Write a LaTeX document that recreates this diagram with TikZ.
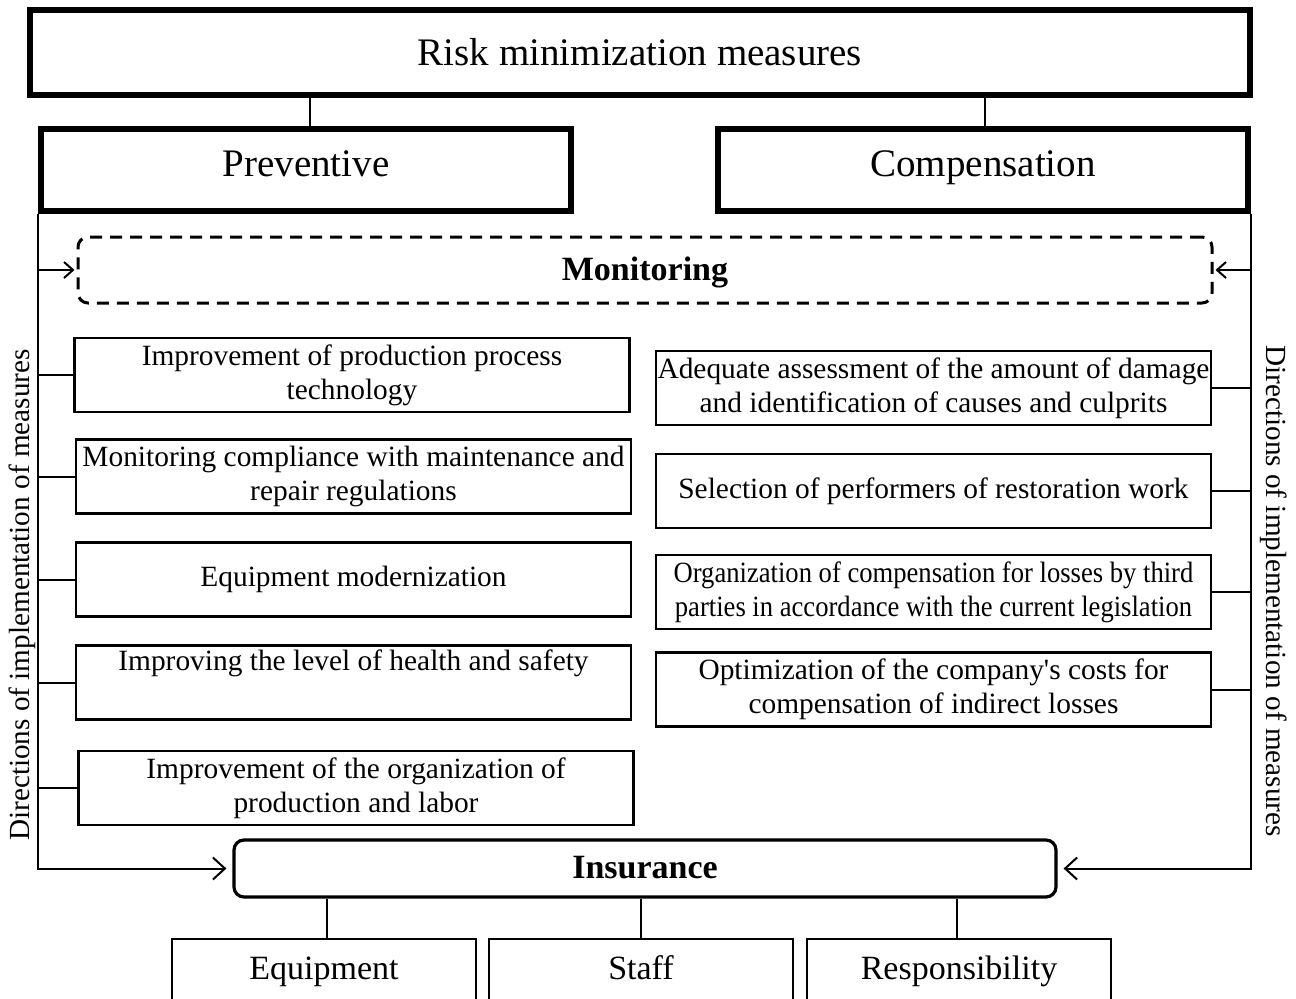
\documentclass[tikz,border=0pt]{standalone}
\usepackage{fontspec}
\setmainfont{Liberation Serif}
\usetikzlibrary{arrows.meta,calc}
\tikzset{
  thickbox/.style={draw, line width=3pt, inner sep=0pt, font=\fontsize{19.5}{23}\selectfont},
  headbox/.style={thickbox, minimum width=265pt, minimum height=41pt, text height=13pt, text depth=6.5pt},
  itembox/.style={draw, line width=1.2pt, inner sep=0pt, align=center, minimum width=277.5pt, minimum height=37pt, font=\fontsize{14.7}{17}\selectfont},
  subbox/.style={draw, line width=1pt, inner sep=0pt, minimum width=152pt, minimum height=31pt, text height=12pt, text depth=3pt, font=\fontsize{17}{20}\selectfont},
  conn/.style={line width=1pt},
  bigarrow/.style={conn, -{Straight Barb[length=6pt,width=11pt,line width=1pt]}, shorten >=3pt},
  smallarrow/.style={conn, -{Straight Barb[length=4.5pt,width=8pt,line width=1pt]}, shorten >=1pt},
  sidetext/.style={font=\fontsize{14.6}{17}\selectfont},
}
\begin{document}
\begin{tikzpicture}[x=0.5pt, y=-0.5pt]
\useasboundingbox (0,0) rectangle (1296,998);
\clip (0,0) rectangle (1296,998);
\fill[white] (0,0) rectangle (1296,998);

% top
\node[thickbox, minimum width=610pt, minimum height=42.5pt] (title) at (640,52.5) {Risk minimization measures};
\node[headbox] (prev) at (306,170) {Preventive};
\node[headbox] (comp) at (983,170) {Compensation};

% monitoring
\node[draw, dashed, dash pattern=on 6pt off 4pt, line width=1.5pt, rounded corners=5pt, minimum width=567pt, minimum height=33pt, inner sep=0pt, text height=13pt, text depth=3pt, font=\bfseries\fontsize{17}{20}\selectfont] (mon) at (645,270) {Monitoring};

% left items
\node[itembox] (L1) at (352,375) {Improvement of production process\\technology};
\node[itembox] (L2) at (353.5,476.5) {Monitoring compliance with maintenance and\\repair regulations};
\node[itembox] (L3) at (353.5,579.5) {Equipment modernization};
\node[itembox] (L4) at (353.5,682.5) {Improving the level of health and safety\\\strut};
\node[itembox] (L5) at (356,788) {Improvement of the organization of\\production and labor};

% right items
\node[itembox] (R1) at (933.5,388) {Adequate assessment of the amount of damage\\and identification of causes and culprits};
\node[itembox] (R2) at (933.5,491) {Selection of performers of restoration work};
\node[itembox] (R3) at (933.5,592) {\scalebox{0.905}[1]{Organization of compensation for losses by third}\\\scalebox{0.905}[1]{parties in accordance with the current legislation}};
\node[itembox] (R4) at (933.5,689.5) {Optimization of the company\textquotesingle s costs for\\compensation of indirect losses};

% insurance
\node[draw, line width=1.6pt, rounded corners=5pt, minimum width=411pt, minimum height=28.5pt, inner sep=0pt, text height=11pt, text depth=1.5pt, font=\bfseries\fontsize{17}{20}\selectfont] (ins) at (645,868.5) {Insurance};

% bottom boxes
\node[subbox] (eq) at (324,970) {Equipment};
\node[subbox] (st) at (641,970) {Staff};
\node[subbox] (re) at (959,970) {Responsibility};

% side labels
\node[sidetext, rotate=90] (dl) at (22,595) {Directions of implementation of measures};
\node[sidetext, rotate=-90] (dr) at (1274,591) {Directions of implementation of measures};

% connectors top
\coordinate (pc) at ($(prev.north)+(4,0)$);
\coordinate (cc) at ($(comp.north)+(2,0)$);
\draw[conn] (pc) -- (pc |- title.south);
\draw[conn] (cc) -- (cc |- title.south);

% side spines
\coordinate (lsp) at (prev.south west);
\coordinate (rsp) at (comp.south east);
\draw[bigarrow] (lsp) |- (ins.west);
\draw[bigarrow] (rsp) |- (ins.east);
\draw[smallarrow] (lsp |- mon.west) -- (mon.west);
\draw[smallarrow] (rsp |- mon.east) -- (mon.east);

% ticks
\foreach \n in {L1,L2,L3,L4,L5} \draw[conn] (\n.west) -- (\n.west -| lsp);
\foreach \n in {R1,R2,R3,R4} \draw[conn] (\n.east) -- (\n.east -| rsp);

% insurance to bottom
\coordinate (ec) at ($(eq.north)+(3,0)$);
\coordinate (rc) at ($(re.north)+(-2,0)$);
\draw[conn] (ec) -- (ec |- ins.south);
\draw[conn] (st.north) -- (st.north |- ins.south);
\draw[conn] (rc) -- (rc |- ins.south);
\end{tikzpicture}
\end{document}
